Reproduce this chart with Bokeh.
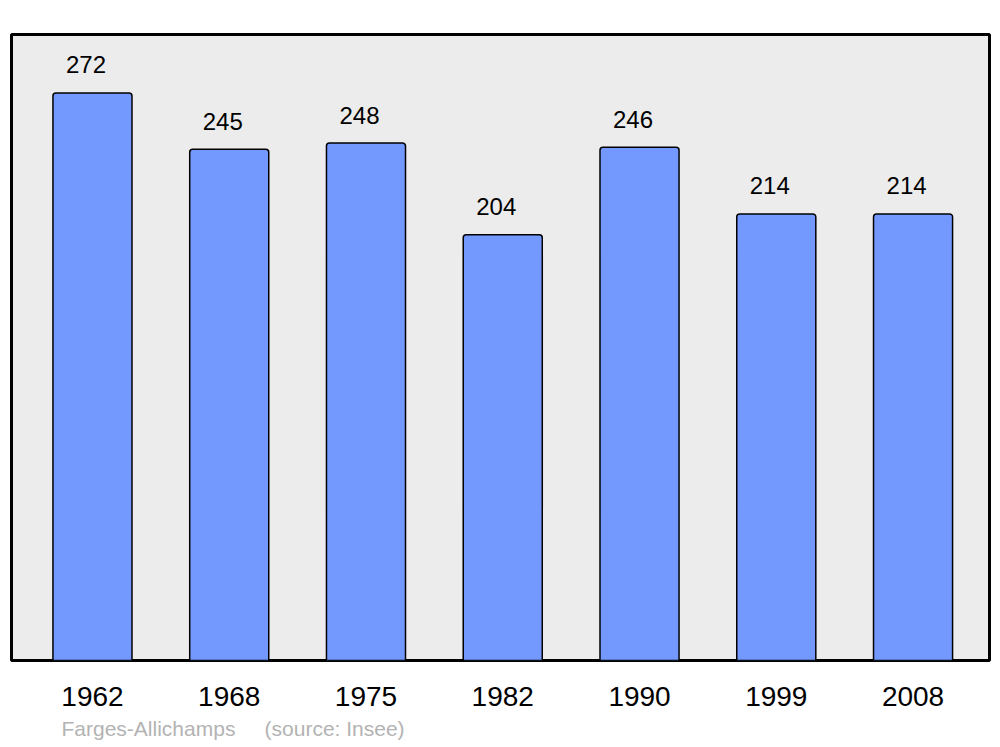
from bokeh.plotting import figure
from bokeh.models import Range1d, FixedTicker, Title, ColumnDataSource
from bokeh.core.properties import value
from bokeh.embed import file_html
from bokeh.resources import INLINE

years = ["1962", "1968", "1975", "1982", "1990", "1999", "2008"]
population = [272, 245, 248, 204, 246, 214, 214]
place = "Farges-Allichamps"
source_note = "(source: Insee)"

xs = list(range(len(years)))
src = ColumnDataSource(dict(x=xs, top=population, lab=[str(v) for v in population]))

FONT = "Liberation Sans"

p = figure(width=1000, height=747, output_backend="svg", toolbar_location=None,
           x_range=Range1d(-0.592, 6.559), y_range=Range1d(0, 300),
           min_border_left=11, min_border_right=11, min_border_top=34, min_border_bottom=87)
p.background_fill_color = "#ececec"
p.border_fill_color = "white"
p.outline_line_color = "black"
p.outline_line_width = 3
p.grid.visible = False
p.yaxis.visible = False

p.vbar(x="x", top="top", bottom=0, width=0.578, source=src, fill_color="#7399ff",
       line_color="black", line_width=1.5, border_radius=(3, 3, 0, 0))

p.text(x="x", y="top", text="lab", source=src, x_offset=-6.5, y_offset=-28,
       text_align="center", text_baseline="alphabetic", text_font=value(FONT),
       text_font_size="24px", text_color="black")

ax = p.xaxis[0]
ax.ticker = FixedTicker(ticks=xs)
ax.major_label_overrides = {i: y for i, y in zip(xs, years)}
ax.axis_line_color = None
ax.major_tick_line_color = None
ax.minor_tick_line_color = None
ax.major_label_text_font = FONT
ax.major_label_text_font_size = "28px"
ax.major_label_text_color = "black"
ax.major_label_standoff = 20

footer = Title(text=place + "\u00a0" * 5 + source_note, align="left", offset=50,
               text_font=FONT, text_font_size="21px", text_color="#b3b3b3",
               text_font_style="normal", standoff=13)
p.add_layout(footer, "below")

open("out.html", "w").write(file_html(p, INLINE))
